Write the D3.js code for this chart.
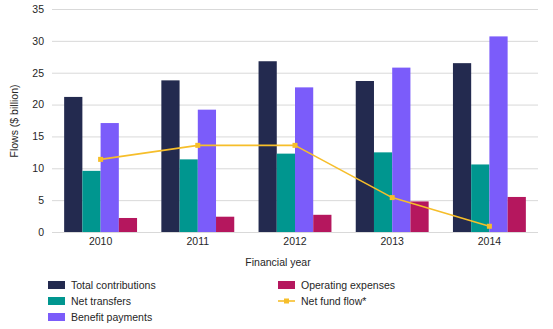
<!DOCTYPE html>
<html>
<head>
<meta charset="utf-8">
<script src="https://cdn.jsdelivr.net/npm/d3@7"></script>
<style>
  body { margin: 0; background: #fff; }
  svg { font-family: "Liberation Sans", Arial, sans-serif; }
</style>
</head>
<body>
<svg id="chart" width="553" height="329"></svg>
<script>
const years = ["2010", "2011", "2012", "2013", "2014"];
const totalContributions = [21.2, 23.8, 26.8, 23.7, 26.5];
const netTransfers = [9.6, 11.4, 12.3, 12.5, 10.6];
const benefitPayments = [17.1, 19.2, 22.7, 25.8, 30.7];
const operatingExpenses = [2.2, 2.4, 2.7, 4.8, 5.5];
const netFundFlow = [11.4, 13.6, 13.6, 5.4, 0.9];
const yTicks = [0, 5, 10, 15, 20, 25, 30, 35];

const barSeries = [
  { name: "Total contributions", values: totalContributions, color: "#232a4f" },
  { name: "Net transfers", values: netTransfers, color: "#00968f" },
  { name: "Benefit payments", values: benefitPayments, color: "#7b5cfa" },
  { name: "Operating expenses", values: operatingExpenses, color: "#b5175e" }
];
const lineColor = "#f6be2a";

const svg = d3.select("#chart");
const margin = { left: 52, right: 15, top: 9, bottom: 97 };
const width = 553 - margin.left - margin.right;
const height = 329 - margin.top - margin.bottom;

const g = svg.append("g").attr("transform", `translate(${margin.left},${margin.top})`);

const x = d3.scaleBand().domain(years).range([0, width]).paddingInner(0).paddingOuter(0);
const groupPad = 0.125;
const x1 = d3.scaleBand()
  .domain(barSeries.map(s => s.name))
  .range([x.bandwidth() * groupPad, x.bandwidth() * (1 - groupPad)]);
const y = d3.scaleLinear().domain([0, 35]).range([height, 0]);

//horizontal gridlines with tick labels
const yAxis = g.append("g")
  .call(d3.axisLeft(y).tickValues(yTicks).tickSize(-width).tickPadding(8));
yAxis.select(".domain").remove();
yAxis.selectAll(".tick line").attr("stroke", "#d9d9d9").attr("stroke-width", 1);
yAxis.selectAll(".tick text").attr("fill", "#262626").attr("font-size", 10.5);

//bars grouped by year
barSeries.forEach(s => {
  g.append("g").selectAll("rect")
    .data(years)
    .enter()
    .append("rect")
    .attr("x", yr => x(yr) + x1(s.name))
    .attr("width", x1.bandwidth())
    .attr("y", (yr, i) => y(s.values[i]))
    .attr("height", (yr, i) => height - y(s.values[i]))
    .attr("fill", s.color);
});

//x axis labels
const xAxis = g.append("g")
  .attr("transform", `translate(0,${height})`)
  .call(d3.axisBottom(x).tickSize(0).tickPadding(6));
xAxis.select(".domain").remove();
xAxis.selectAll(".tick text").attr("fill", "#262626").attr("font-size", 10.5);

//net fund flow line with square markers
const line = d3.line()
  .x((v, i) => x(years[i]) + x.bandwidth() / 2)
  .y(v => y(v));

g.append("path")
  .datum(netFundFlow)
  .attr("d", line)
  .attr("fill", "none")
  .attr("stroke", lineColor)
  .attr("stroke-width", 1.6)
  .attr("stroke-linejoin", "round");

g.selectAll(".marker")
  .data(netFundFlow)
  .enter()
  .append("rect")
  .attr("class", "marker")
  .attr("x", (v, i) => x(years[i]) + x.bandwidth() / 2 - 2.5)
  .attr("y", v => y(v) - 2.5)
  .attr("width", 5)
  .attr("height", 5)
  .attr("fill", lineColor);

//axis titles
svg.append("text")
  .attr("transform", "translate(18,121) rotate(-90)")
  .attr("text-anchor", "middle")
  .attr("font-size", 10.5)
  .attr("fill", "#262626")
  .text("Flows ($ billion)");

svg.append("text")
  .attr("x", 278)
  .attr("y", 266)
  .attr("text-anchor", "middle")
  .attr("font-size", 10.5)
  .attr("fill", "#262626")
  .text("Financial year");

//legend
const legendItems = [
  { name: "Total contributions", color: barSeries[0].color, col: 0, row: 0 },
  { name: "Net transfers", color: barSeries[1].color, col: 0, row: 1 },
  { name: "Benefit payments", color: barSeries[2].color, col: 0, row: 2 },
  { name: "Operating expenses", color: barSeries[3].color, col: 1, row: 0 },
  { name: "Net fund flow*", color: lineColor, col: 1, row: 1, isLine: true }
];
const legend = svg.append("g");
const entry = legend.selectAll("g")
  .data(legendItems)
  .enter()
  .append("g")
  .attr("transform", d => `translate(${d.col ? 278 : 48},${285 + d.row * 16})`);

entry.filter(d => !d.isLine).append("rect")
  .attr("x", 0).attr("y", -4).attr("width", 17).attr("height", 8)
  .attr("fill", d => d.color);
entry.filter(d => d.isLine).append("line")
  .attr("x1", 0).attr("x2", 17).attr("y1", 0).attr("y2", 0)
  .attr("stroke", d => d.color).attr("stroke-width", 1.6);
entry.filter(d => d.isLine).append("rect")
  .attr("x", 6).attr("y", -2.5).attr("width", 5).attr("height", 5)
  .attr("fill", d => d.color);
entry.append("text")
  .attr("x", 23)
  .attr("y", 0)
  .attr("dy", "0.35em")
  .attr("font-size", 10.5)
  .attr("fill", "#262626")
  .text(d => d.name);
</script>
</body>
</html>
